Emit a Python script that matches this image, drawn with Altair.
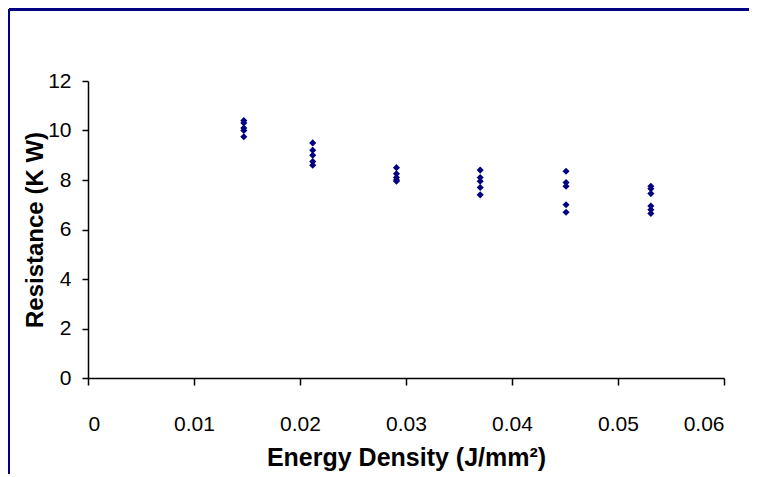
import altair as alt
import pandas as pd

energy_levels = [0.0147, 0.0212, 0.0291, 0.0370, 0.0451, 0.0531]
resistance_groups = [
    [10.4, 10.3, 10.1, 10.0, 9.75],
    [9.5, 9.2, 9.0, 8.75, 8.6],
    [8.5, 8.25, 8.1, 8.0, 7.95],
    [8.4, 8.1, 7.95, 7.7, 7.4],
    [8.35, 7.9, 7.75, 7.0, 6.7],
    [7.75, 7.65, 7.45, 6.95, 6.8, 6.65],
]
x_ticks = [0, 0.01, 0.02, 0.03, 0.04, 0.05, 0.06]
y_ticks = [0, 2, 4, 6, 8, 10, 12]

rows = []
for e, grp in zip(energy_levels, resistance_groups):
    for r in grp:
        rows.append({"energy": e, "resistance": r})
df = pd.DataFrame(rows)

W, H = 636, 297
PAD_L, PAD_T, PAD_R, PAD_B = 80, 73, 25, 96

points = alt.Chart(df).mark_point(
    shape="diamond", filled=True, color="#000080", size=50, opacity=1
).encode(
    x=alt.X("energy:Q",
            scale=alt.Scale(domain=[0, 0.06], nice=False, zero=True),
            axis=alt.Axis(values=x_ticks, format="~g", title="Energy Density (J/mm²)",
                          labelPadding=28, tickSize=7, titlePadding=11, titleFontSize=25)),
    y=alt.Y("resistance:Q",
            scale=alt.Scale(domain=[0, 12], nice=False),
            axis=alt.Axis(values=y_ticks, title="Resistance (K W)",
                          labelPadding=11, tickSize=6, titlePadding=0)),
)

frame_top = alt.Chart(df).mark_rule(color="#000080", strokeWidth=2.5, clip=False).encode(
    x=alt.value(-PAD_L + 1), x2=alt.value(W + PAD_R), y=alt.value(-PAD_T + 1)
)
frame_left = alt.Chart(df).mark_rule(color="#000080", strokeWidth=2, clip=False).encode(
    x=alt.value(-PAD_L + 1), y=alt.value(-PAD_T + 1), y2=alt.value(H + PAD_B)
)

chart = alt.layer(points, frame_top, frame_left).properties(
    width=W, height=H,
    autosize=alt.AutoSizeParams(type="none"),
    padding={"left": PAD_L, "top": PAD_T, "right": PAD_R, "bottom": PAD_B},
).configure_view(stroke=None).configure_axis(
    grid=False,
    domainColor="black", domainWidth=1.5,
    tickColor="black", tickWidth=1.5,
    labelFont="Liberation Sans", labelFontSize=21, labelColor="black",
    titleFont="Liberation Sans", titleFontSize=24, titleFontWeight="bold", titleColor="black",
)

chart.save("out.html", embed_options={"renderer": "svg", "actions": False})
